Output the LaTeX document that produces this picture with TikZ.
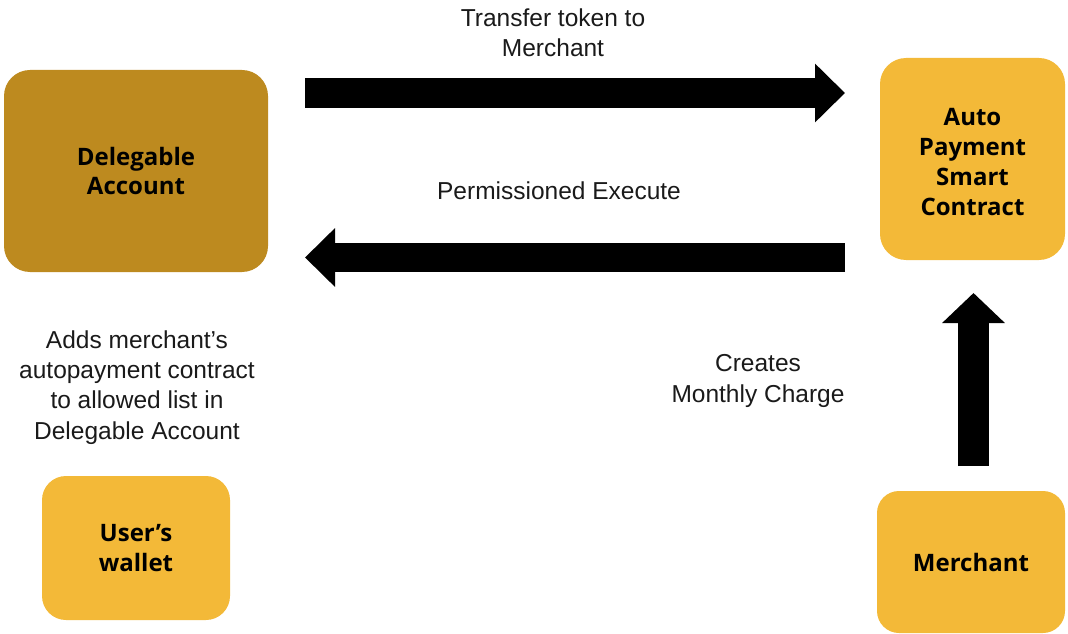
\documentclass[tikz,border=0pt]{standalone}
\usepackage{fontspec}
\setmainfont{Liberation Sans}
\newfontfamily\boxfont{Open Sans}
\usetikzlibrary{arrows.meta}
\definecolor{darkgold}{HTML}{BD8A1F}
\definecolor{gold}{HTML}{F3B938}
\definecolor{labelgray}{HTML}{1A1A1A}
\tikzset{
  boxtext/.style={align=center, font=\boxfont\bfseries\fontsize{24}{29.7}\selectfont, text=black, inner sep=0pt},
  box/.style={fill=#1, draw=none, rounded corners=26pt, boxtext},
  lbl/.style={align=center, font=\fontsize{24.5}{30.3}\selectfont, text=labelgray, inner sep=0pt},
  fat/.style={line width=#1, -{Triangle[length=30pt,width=57pt]}, black},
}
\begin{document}
\begin{tikzpicture}[x=1pt,y=1pt]
\useasboundingbox (0,0) rectangle (1068,633);
\node[box=darkgold, minimum width=264pt, minimum height=202pt] (del) at (136,462) {Delegable\\Account};
\node[box=gold, minimum width=185pt, minimum height=202pt] (apc) at (972.5,474) {};
\node[boxtext] (apct) at ([yshift=-3pt]apc.center) {Auto\\Payment\\Smart\\Contract};
\node[box=gold, minimum width=188pt, minimum height=144pt, rounded corners=24pt] (wal) at (136,85) {User’s\\wallet};
\node[box=gold, minimum width=188pt, minimum height=142pt, rounded corners=22pt] (mer) at (971,71) {Merchant};

\coordinate (t1) at (305,540);
\coordinate (t2) at (845,540);
\coordinate (b1) at (845,375.5);
\coordinate (b2) at (305,375.5);
\coordinate (u1) at (973.5,167);
\coordinate (u2) at (973.5,340);

\draw[fat=30pt] (t1) -- (t2);
\draw[fat=29pt] (b1) -- (b2);
\draw[line width=31pt, -{Triangle[length=30pt,width=61pt]}] (u1) -- (u2);

\node[lbl] (ltr) at (553,600) {Transfer token to\\Merchant};
\node[lbl] (lpe) at (559,442.5) {Permissioned Execute};
\node[lbl] (lad) at (137,245.5) {Adds merchant’s\\autopayment contract\\to allowed list in\\Delegable Account};
\node[lbl] (lcr) at (758,252) {Creates\\Monthly Charge};
\end{tikzpicture}
\end{document}
